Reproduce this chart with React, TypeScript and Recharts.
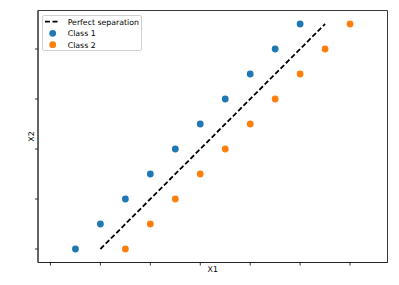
import React from 'react';
import { ScatterChart, Scatter, XAxis, YAxis, Legend, ReferenceArea } from 'recharts';

const class1X = [1, 2, 3, 4, 5, 6, 7, 8, 9, 10];
const class1Y = [0, 1, 2, 3, 4, 5, 6, 7, 8, 9];
const class2X = [3, 4, 5, 6, 7, 8, 9, 10, 11, 12];
const class2Y = [0, 1, 2, 3, 4, 5, 6, 7, 8, 9];
const lineX = [2, 11];
const lineY = [0, 9];
const xTicks = [0, 2, 4, 6, 8, 10, 12];
const yTicks = [0, 2, 4, 6, 8];
const xDomain = [-0.5, 13.5];
const yDomain = [-0.54, 9.54];
const seriesNames = ['Perfect separation', 'Class 1', 'Class 2'];
const colors = { class1: '#1f77b4', class2: '#ff7f0e', line: '#000000' };

const class1 = class1X.map((x, i) => ({ x, y: class1Y[i] }));
const class2 = class2X.map((x, i) => ({ x, y: class2Y[i] }));
const sepLine = lineX.map((x, i) => ({ x, y: lineY[i] }));

const FONT = '"DejaVu Sans", sans-serif';
const AXIS = '#222';

const dot = (color: string) => (props: any) => (
  <circle cx={props.cx} cy={props.cy} r={3.4} fill={color} />
);

const emptyTick = () => <g />;

const LegendBox = () => (
  <div
    style={{
      border: '1px solid #d0d0d0',
      borderRadius: 2,
      background: 'rgba(255,255,255,0.8)',
      width: 100,
      height: 36,
      boxSizing: 'border-box',
      position: 'relative',
      fontFamily: FONT,
      fontSize: 7.8,
      color: '#000',
    }}
  >
    <svg width={100} height={36} style={{ position: 'absolute', left: -1, top: -1 }}>
      <line x1={3} x2={17} y1={6.7} y2={6.7} stroke={colors.line} strokeWidth={1.8} strokeDasharray="5 2.5" />
      <circle cx={10.7} cy={18.3} r={3.4} fill={colors.class1} />
      <circle cx={10.7} cy={29.7} r={3.4} fill={colors.class2} />
      {seriesNames.map((n, i) => (
        <text key={n} x={25.7} y={6.7 + i * 11.5 + 2.8} fontSize={7.8} fontFamily={FONT} fill="#000">
          {n}
        </text>
      ))}
    </svg>
  </div>
);

const YLabel = (props: any) => {
  const vb = props.viewBox;
  const x = vb.x + 31;
  const y = vb.y + vb.height / 2;
  return (
    <text x={x} y={y} transform={`rotate(-90 ${x} ${y})`} textAnchor="middle" dominantBaseline="central" fontSize={7.8} fontFamily={FONT} fill="#000">
      X2
    </text>
  );
};

const XLabel = (props: any) => {
  const vb = props.viewBox;
  const x = vb.x + vb.width / 2;
  const y = vb.y + 7;
  return (
    <text x={x} y={y} textAnchor="middle" dominantBaseline="central" fontSize={7.8} fontFamily={FONT} fill="#000">
      X1
    </text>
  );
};

export default function App() {
  return (
    <div style={{ position: 'absolute', left: 0, top: 0, width: 399, height: 285, background: '#fff' }}>
      <ScatterChart width={399} height={285} margin={{ top: 10.5, right: 11.5, left: 0, bottom: 0 }}>
        <XAxis
          xAxisId="b"
          type="number"
          dataKey="x"
          domain={xDomain}
          allowDataOverflow
          ticks={xTicks}
          tick={emptyTick}
          tickSize={3}
          height={22.5}
          stroke={AXIS}
          axisLine={{ stroke: AXIS, strokeWidth: 0.9 }}
          tickLine={{ stroke: AXIS, strokeWidth: 0.9 }}
          label={<XLabel />}
        />
        <YAxis
          yAxisId="l"
          type="number"
          dataKey="y"
          domain={yDomain}
          allowDataOverflow
          ticks={yTicks}
          tick={emptyTick}
          tickSize={3}
          width={38}
          stroke={AXIS}
          axisLine={{ stroke: AXIS, strokeWidth: 0.9 }}
          tickLine={{ stroke: AXIS, strokeWidth: 0.9 }}
          label={<YLabel />}
        />
        <ReferenceArea
          xAxisId="b"
          yAxisId="l"
          x1={xDomain[0]}
          x2={xDomain[1]}
          y1={yDomain[0]}
          y2={yDomain[1]}
          fill="none"
          fillOpacity={0}
          stroke={AXIS}
          strokeWidth={0.9}
          ifOverflow="visible"
        />
        <Legend
          layout="vertical"
          align="center"
          verticalAlign="middle"
          wrapperStyle={{ left: 42, top: 15, width: 100, height: 36 }}
          content={<LegendBox />}
        />
        <Scatter
          name={seriesNames[0]}
          data={sepLine}
          xAxisId="b"
          yAxisId="l"
          line={{ stroke: colors.line, strokeWidth: 1.8, strokeDasharray: '5 2.5' }}
          shape={() => <g />}
          isAnimationActive={false}
        />
        <Scatter name={seriesNames[1]} data={class1} xAxisId="b" yAxisId="l" shape={dot(colors.class1)} isAnimationActive={false} />
        <Scatter name={seriesNames[2]} data={class2} xAxisId="b" yAxisId="l" shape={dot(colors.class2)} isAnimationActive={false} />
      </ScatterChart>
    </div>
  );
}
